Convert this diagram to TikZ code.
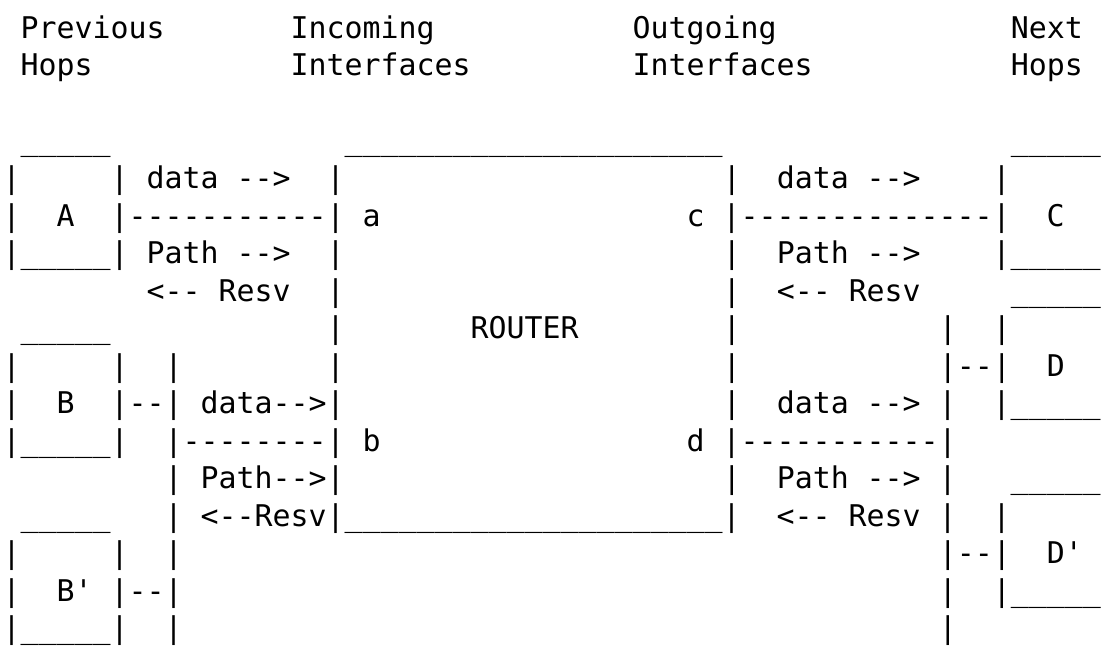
\documentclass[tikz,border=0pt]{standalone}
\usepackage{fontspec}
\setmonofont{DejaVu Sans Mono}
\ExplSyntaxOn
\cs_new:Npn \rep #1#2 { \prg_replicate:nn {#1} {#2} }
\ExplSyntaxOff
\newcommand\gap[1]{\hskip#1\fontcharwd\font`\M\relax}
\tikzset{
  ascii/.style={anchor=base west, inner sep=0pt, outer sep=0pt,
    font=\ttfamily\fontsize{29.9}{37}\selectfont, text=black}
}
\begin{document}
\begin{tikzpicture}[x=1pt,y=-1pt]
\useasboundingbox[fill=white] (0,0) rectangle (1103,647);
\node[ascii] (l1)  at (2.7,38.5)  {~Previous\gap{7}Incoming\gap{11}Outgoing\gap{13}Next};
\node[ascii] (l2)  at (2.7,76)    {~Hops\gap{11}Interfaces\gap{9}Interfaces\gap{11}Hops};
\node[ascii] (l4)  at (2.7,151)   {~\rep{5}{\_}\gap{13}\rep{21}{\_}\gap{16}\rep{5}{\_}};
\node[ascii] (l5)  at (2.7,188.5) {|\gap{5}|~data~-->\gap{2}|\gap{21}|\gap{2}data~-->\gap{4}|};
\node[ascii] (l6)  at (2.7,226)   {|\gap{2}A\gap{2}|\rep{11}{-}|~a\gap{17}c~|\rep{14}{-}|\gap{2}C};
\node[ascii] (l7)  at (2.7,263.5) {|\rep{5}{\_}|~Path~-->\gap{2}|\gap{21}|\gap{2}Path~-->\gap{4}|\rep{5}{\_}};
\node[ascii] (l8)  at (2.7,301)   {\gap{8}<--~Resv\gap{2}|\gap{21}|\gap{2}<--~Resv\gap{5}\rep{5}{\_}};
\node[ascii] (l9)  at (2.7,338.5) {~\rep{5}{\_}\gap{12}|\gap{7}ROUTER\gap{8}|\gap{11}|\gap{2}|};
\node[ascii] (l10) at (2.7,376)   {|\gap{5}|\gap{2}|\gap{8}|\gap{21}|\gap{11}|--|\gap{2}D};
\node[ascii] (l11) at (2.7,413.5) {|\gap{2}B\gap{2}|--|~data-->|\gap{21}|\gap{2}data~-->~|\gap{2}|\rep{5}{\_}};
\node[ascii] (l12) at (2.7,451)   {|\rep{5}{\_}|\gap{2}|\rep{8}{-}|~b\gap{17}d~|\rep{11}{-}|};
\node[ascii] (l13) at (2.7,488.5) {\gap{9}|~Path-->|\gap{21}|\gap{2}Path~-->~|\gap{3}\rep{5}{\_}};
\node[ascii] (l14) at (2.7,526)   {~\rep{5}{\_}\gap{3}|~<--Resv|\rep{21}{\_}|\gap{2}<--~Resv~|\gap{2}|};
\node[ascii] (l15) at (2.7,563.5) {|\gap{5}|\gap{2}|\gap{42}|--|\gap{2}D'};
\node[ascii] (l16) at (2.7,601)   {|\gap{2}B'~|--|\gap{42}|\gap{2}|\rep{5}{\_}};
\node[ascii] (l17) at (2.7,638.5) {|\rep{5}{\_}|\gap{2}|\gap{42}|};
\end{tikzpicture}
\end{document}
